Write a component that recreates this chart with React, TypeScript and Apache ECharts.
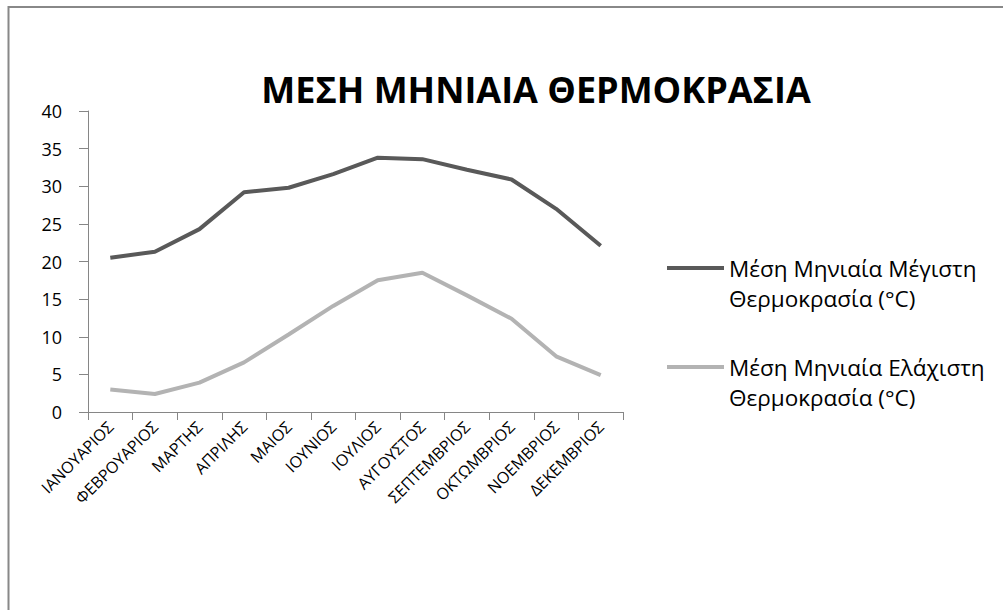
import React, { useEffect, useRef } from "react";
import * as echarts from "echarts";

const months = [
  "ΙΑΝΟΥΑΡΙΟΣ", "ΦΕΒΡΟΥΑΡΙΟΣ", "ΜΑΡΤΗΣ", "ΑΠΡΙΛΗΣ", "ΜΑΙΟΣ", "ΙΟΥΝΙΟΣ",
  "ΙΟΥΛΙΟΣ", "ΑΥΓΟΥΣΤΟΣ", "ΣΕΠΤΕΜΒΡΙΟΣ", "ΟΚΤΩΜΒΡΙΟΣ", "ΝΟΕΜΒΡΙΟΣ", "ΔΕΚΕΜΒΡΙΟΣ",
];
const maxTemps = [20.5, 21.3, 24.3, 29.2, 29.8, 31.6, 33.8, 33.6, 32.2, 30.9, 27.0, 22.1];
const minTemps = [3.0, 2.4, 3.9, 6.6, 10.3, 14.1, 17.5, 18.5, 15.5, 12.4, 7.4, 4.9];
const seriesNames = [
  "Μέση Μηνιαία Μέγιστη\nΘερμοκρασία (°C)",
  "Μέση Μηνιαία Ελάχιστη\nΘερμοκρασία (°C)",
];
const titleText = "ΜΕΣΗ ΜΗΝΙΑΙΑ ΘΕΡΜΟΚΡΑΣΙΑ";
const yMin = 0;
const yMax = 40;
const yStep = 5;

const FONT = "'Open Sans', 'Noto Sans', sans-serif";

export default function App() {
  const ref = useRef<HTMLDivElement>(null);
  useEffect(() => {
    if (!ref.current) return;
    const chart = echarts.init(ref.current, undefined, { renderer: "svg" });
    chart.setOption({
      animation: false,
      backgroundColor: "#ffffff",
      textStyle: { fontFamily: FONT },
      title: {
        text: titleText,
        left: 531,
        top: 64,
        textAlign: "center",
        textStyle: { fontFamily: FONT, fontWeight: "bold", fontSize: 36, color: "#000", lineHeight: 40 },
      },
      grid: { left: 88, right: 380, top: 111, bottom: 198, containLabel: false },
      xAxis: {
        type: "category",
        data: months,
        boundaryGap: true,
        axisLine: { show: true, lineStyle: { color: "#868686", width: 1 } },
        axisTick: { show: true, length: 8, interval: 0, lineStyle: { color: "#868686" } },
        axisLabel: { interval: 0, rotate: 45, margin: 12, fontSize: 16, color: "#000", fontFamily: FONT },
        splitLine: { show: false },
      },
      yAxis: {
        type: "value",
        min: yMin,
        max: yMax,
        interval: yStep,
        axisLine: { show: true, lineStyle: { color: "#868686", width: 1 } },
        axisTick: { show: true, length: 9, lineStyle: { color: "#868686" } },
        axisLabel: { margin: 26, fontSize: 18, color: "#000", fontFamily: FONT },
        splitLine: { show: false },
      },
      legend: {
        orient: "vertical",
        left: 665,
        top: 223,
        padding: 0,
        itemWidth: 57,
        itemHeight: 14,
        itemGap: 9,
        itemStyle: { opacity: 0 },
        lineStyle: { width: 4 },
        formatter: (name: string) => " \n" + name,
        textStyle: { fontFamily: FONT, fontSize: 22.5, color: "#000", lineHeight: 30 },
        data: seriesNames,
      },
      series: [
        {
          name: seriesNames[0],
          type: "line",
          data: maxTemps,
          symbol: "none",
          lineStyle: { color: "#595959", width: 4 },
          itemStyle: { color: "#595959" },
        },
        {
          name: seriesNames[1],
          type: "line",
          data: minTemps,
          symbol: "none",
          lineStyle: { color: "#b3b3b3", width: 4 },
          itemStyle: { color: "#b3b3b3" },
        },
      ],
      graphic: [
        { type: "line", shape: { x1: 8, y1: 7, x2: 1003, y2: 7 }, style: { stroke: "#888", lineWidth: 2 } },
        { type: "line", shape: { x1: 8.5, y1: 6, x2: 8.5, y2: 610 }, style: { stroke: "#888", lineWidth: 2 } },
      ],
    });
    return () => chart.dispose();
  }, []);
  return <div ref={ref} style={{ position: "absolute", left: 0, top: 0, width: 1003, height: 610 }} />;
}
